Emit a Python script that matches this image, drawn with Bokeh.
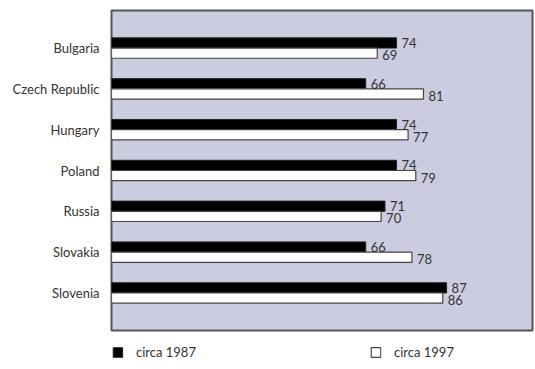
from bokeh.plotting import figure
from bokeh.models import ColumnDataSource, Range1d, Legend, LegendItem, FixedTicker
from bokeh.embed import file_html
from bokeh.resources import INLINE

countries = ["Bulgaria", "Czech Republic", "Hungary", "Poland", "Russia", "Slovakia", "Slovenia"]
circa_1987 = [74, 66, 74, 74, 71, 66, 87]
circa_1997 = [69, 81, 77, 79, 70, 78, 86]
series_names = ["circa 1987", "circa 1997"]

FONT = "Lato"
TEXT = "#333333"

pos = list(range(1, len(countries) + 1))
bar_h = 0.25

src_a = ColumnDataSource(dict(
    y=[p - bar_h / 2 for p in pos], v=circa_1987, lbl=[str(v) for v in circa_1987]))
src_b = ColumnDataSource(dict(
    y=[p + bar_h / 2 for p in pos], v=circa_1997, lbl=[str(v) for v in circa_1997]))

p = figure(frame_width=421, frame_height=320, output_backend="svg", toolbar_location=None,
           x_range=Range1d(0, 109.3), y_range=Range1d(7.92, 0.08),
           x_axis_location=None,
           min_border_left=111, min_border_right=3, min_border_top=10, min_border_bottom=0)
p.background_fill_color = "#cbcce0"
p.border_fill_color = "white"
p.outline_line_color = "#555555"
p.outline_line_width = 2
p.grid.visible = False

r1 = p.hbar(y="y", left=0, right="v", height=bar_h, source=src_a,
            fill_color="black", line_color="#222222", line_width=1)
r2 = p.hbar(y="y", left=0, right="v", height=bar_h, source=src_b,
            fill_color="white", line_color="#444444", line_width=1.2)

for src, yoff in ((src_a, 0), (src_b, 2)):
    p.text(x="v", y="y", text="lbl", source=src, x_offset=5, y_offset=yoff,
           text_baseline="middle", text_align="left", text_font_size="13px",
           text_color=TEXT, text_font={"value": FONT})

p.yaxis.ticker = FixedTicker(ticks=pos)
p.yaxis.major_label_overrides = {pp: c for pp, c in zip(pos, countries)}
p.yaxis.major_tick_line_color = None
p.yaxis.minor_tick_line_color = None
p.yaxis.axis_line_color = None
p.yaxis.major_label_standoff = 6
p.yaxis.major_label_text_font = FONT
p.yaxis.major_label_text_font_size = "13px"
p.yaxis.major_label_text_color = TEXT

# horizontal legend under the frame, spanning its full width
legend = Legend(items=[LegendItem(label=series_names[0], renderers=[r1]),
                       LegendItem(label=series_names[1], renderers=[r2])],
                orientation="horizontal", location="top",
                glyph_width=12, glyph_height=12, label_standoff=13,
                label_width=138, spacing=95, padding=0, margin=14,
                border_line_color=None, background_fill_alpha=0,
                label_text_font=FONT, label_text_font_size="13px",
                label_text_color=TEXT)
p.add_layout(legend, "below")

open("out.html", "w").write(file_html(p, INLINE))
